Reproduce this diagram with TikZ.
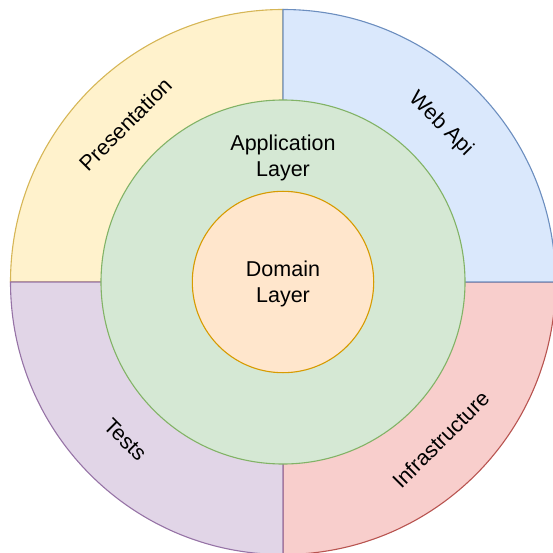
\documentclass[tikz,border=0pt]{standalone}
\usepackage{fontspec}
\setmainfont{Liberation Sans}
\usetikzlibrary{calc}
\definecolor{yelFill}{HTML}{FFF2CC}\definecolor{yelLine}{HTML}{D6B656}
\definecolor{bluFill}{HTML}{DAE8FC}\definecolor{bluLine}{HTML}{6C8EBF}
\definecolor{redFill}{HTML}{F8CECC}\definecolor{redLine}{HTML}{B85450}
\definecolor{purFill}{HTML}{E1D5E7}\definecolor{purLine}{HTML}{9673A6}
\definecolor{grnFill}{HTML}{D5E8D4}\definecolor{grnLine}{HTML}{82B366}
\definecolor{orgFill}{HTML}{FFE6CC}\definecolor{orgLine}{HTML}{D79B00}
\tikzset{
  ring/.style={line width=1.1pt},
  lbl/.style={inner sep=0pt, align=center, text=black,
    font=\fontsize{21.5}{25.8}\selectfont}
}
\begin{document}
\begin{tikzpicture}[x=1pt,y=1pt]
  \useasboundingbox (0,0) rectangle (553,552);
  \coordinate (c) at (283,270);
  \def\R{272.5pt}
  % outer quarter sectors
  \draw[ring, fill=yelFill, draw=yelLine] (c) -- ++(180:\R) arc[start angle=180, end angle=90, radius=\R] -- cycle;
  \draw[ring, fill=redFill, draw=redLine] (c) -- ++(0:\R) arc[start angle=0, end angle=-90, radius=\R] -- cycle;
  \draw[ring, fill=bluFill, draw=bluLine] (c) -- ++(90:\R) arc[start angle=90, end angle=0, radius=\R] -- cycle;
  \draw[ring, fill=purFill, draw=purLine] (c) -- ++(270:\R) arc[start angle=270, end angle=180, radius=\R] -- cycle;
  % application and domain circles
  \draw[ring, fill=grnFill, draw=grnLine] (c) circle[radius=182pt];
  \draw[ring, fill=orgFill, draw=orgLine] (c) circle[radius=90.7pt];
  % labels
  \node[lbl] (app) at (283,394) {Application\\Layer};
  \node[lbl] (dom) at (283,268) {Domain\\Layer};
  \node[lbl, rotate=45]  (pres)  at ($(c)+(135:223pt)$) {Presentation};
  \node[lbl, rotate=-45] (web)   at ($(c)+(45:223pt)$) {Web Api};
  \node[lbl, rotate=-45] (tests) at ($(c)+(225:223pt)$) {Tests};
  \node[lbl, rotate=45]  (infra) at ($(c)+(-45:223pt)$) {Infrastructure};
\end{tikzpicture}
\end{document}
